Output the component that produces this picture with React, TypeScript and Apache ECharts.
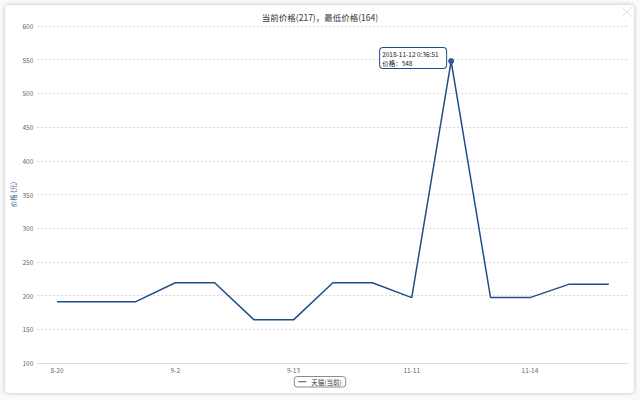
import React, { useEffect, useRef } from "react";
import * as echarts from "echarts";

const categories = ["8-20", "8-24", "8-28", "9-2", "9-6", "9-9", "9-13", "9-20", "10-15", "11-11", "11-12", "11-13", "11-14", "11-15", "11-16"];
const prices = [191, 191, 191, 219, 219, 164, 164, 219, 219, 197, 548, 197, 197, 217, 217];
const seriesName = "天猫(当前)";
const titleText = "当前价格(217)，最低价格(164)";
const yAxisName = "价格 (元)";
const tipIndex = 10;
const tipTime = "2018-11-12 0:36:51";

const LINE = "#1d4f8a";
const FONT = "'Noto Sans CJK SC', 'Noto Sans', sans-serif";

export default function App() {
  const ref = useRef<HTMLDivElement>(null);
  useEffect(() => {
    if (!ref.current) return;
    const chart = echarts.init(ref.current, undefined, { renderer: "svg" });
    chart.setOption({
      animation: false,
      textStyle: { fontFamily: FONT },
      title: {
        text: titleText,
        left: "center",
        top: 8,
        textStyle: { fontSize: 8.5, fontWeight: "normal", color: "#333", fontFamily: FONT },
      },
      grid: { left: 37.3, right: 11.5, top: 26, bottom: 37, containLabel: false, outerBoundsMode: "none" },
      legend: {
        data: [seriesName],
        bottom: 13,
        left: "center",
        borderColor: "#8a8a8a",
        borderWidth: 1,
        borderRadius: 3,
        padding: [2, 4],
        itemWidth: 8,
        itemHeight: 6,
        itemGap: 3,
        textStyle: { fontSize: 6.5, color: "#333", fontFamily: FONT },
        icon: "path://M0,4.4 L10,4.4 L10,5.6 L0,5.6 Z",
      },
      xAxis: {
        type: "category",
        data: categories,
        boundaryGap: true,
        axisLine: { lineStyle: { color: "#cfe0f0", width: 1 } },
        axisTick: {
          interval: (i: number) => i % 3 === 1,
          length: 3,
          lineStyle: { color: "#cfe0f0" },
        },
        axisLabel: { interval: 2, fontSize: 6.5, color: "#666", margin: 4, fontFamily: FONT },
        splitLine: { show: false },
      },
      yAxis: {
        type: "value",
        min: 100,
        max: 600,
        interval: 50,
        name: yAxisName,
        nameLocation: "middle",
        nameGap: 21,
        nameMoveOverlap: false,
        nameTextStyle: { fontSize: 6.5, color: "#3a5f8f", fontFamily: FONT },
        axisLine: { show: false },
        axisTick: { show: false },
        axisLabel: { fontSize: 6.5, color: "#666", margin: 4, fontFamily: FONT },
        splitLine: { lineStyle: { color: "#d8d8d8", type: [2, 2], width: 1 } },
      },
      series: [
        {
          name: seriesName,
          type: "line",
          data: prices,
          showSymbol: false,
          symbol: "none",
          lineStyle: { color: LINE, width: 1.5 },
          itemStyle: { color: LINE },
          markPoint: {
            symbol: "circle",
            symbolSize: 6,
            itemStyle: { color: "#2b5c96" },
            data: [{ coord: [tipIndex, prices[tipIndex]], value: prices[tipIndex] }],
            label: {
              show: true,
              position: "left",
              distance: 2,
              offset: [0, -3],
              formatter: () => `{a|${tipTime}}\n{a|价格：${prices[tipIndex]}}`,
              backgroundColor: "#fff",
              borderColor: LINE,
              borderWidth: 1,
              borderRadius: 3,
              padding: [2, 2, 1, 2],
              color: "#222",
              fontFamily: FONT,
              rich: {
                a: { width: 62, align: "left", fontSize: 6.5, lineHeight: 8.5, color: "#222", fontFamily: FONT },
              },
            },
          },
        },
      ],
      graphic: [
        { type: "line", shape: { x1: 622, y1: 7, x2: 632, y2: 17 }, style: { stroke: "#e0e0e0", lineWidth: 1 } },
        { type: "line", shape: { x1: 632, y1: 7, x2: 622, y2: 17 }, style: { stroke: "#e0e0e0", lineWidth: 1 } },
      ],
    });
    return () => chart.dispose();
  }, []);
  return (
    <div style={{ position: "fixed", left: 0, top: 0, width: 640, height: 400, background: "#fafafa" }}>
      <div
        style={{
          position: "absolute",
          left: 5,
          top: 5,
          width: 629,
          height: 388,
          background: "#fff",
          borderRadius: 4,
          boxShadow: "0 0 4px rgba(0,0,0,0.25)",
        }}
      />
      <div ref={ref} style={{ position: "absolute", left: 0, top: 0, width: 640, height: 400 }} />
    </div>
  );
}
